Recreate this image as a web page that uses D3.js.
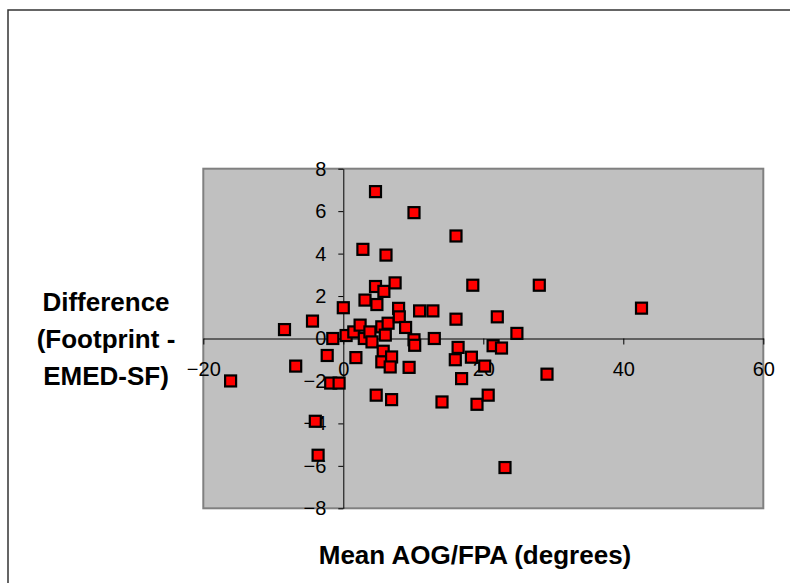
<!DOCTYPE html>
<head>
<style>
body { margin: 0; background: #fff; }
text { font-family: Arial, "Liberation Sans", sans-serif; }
.tick text { font-size: 20px; }
.title { font-size: 26px; font-weight: bold; }
</style>
<meta charset="utf-8">
<title></title>
</head>
<body>
<script src="https://d3js.org/d3.v7.min.js"></script>
<script>
// Mean AOG/FPA (degrees) vs difference (Footprint - EMED-SF)
var meanAog = [-16.1, -8.4, -6.8, -4.4, -4.0, -3.6, -2.3, -1.5, -1.8, -0.6,
               0.0, 0.4, 1.5, 1.8, 2.4, 2.8, 3.1, 3.0, 3.8, 4.1,
               4.6, 4.6, 4.8, 4.7, 5.5, 5.8, 5.7, 5.5, 6.0, 6.1,
               6.4, 6.9, 6.7, 6.9, 7.4, 7.9, 8.0, 8.9, 9.4, 10.1,
               10.1, 10.2, 10.9, 12.8, 13.0, 14.1, 16.1, 16.1, 16.4, 16.0,
               16.9, 18.3, 18.5, 19.1, 20.2, 20.7, 21.4, 22.0, 22.6, 23.1,
               24.8, 28.0, 29.1, 42.6];
var difference = [-2.0, 0.42, -1.3, 0.82, -3.9, -5.5, -0.8, 0.0, -2.1, -2.1,
                  1.45, 0.14, 0.31, -0.9, 0.63, 4.2, 1.81, 0.0, 0.31, -0.16,
                  6.92, 2.45, 1.6, -2.67, 0.55, 2.22, -0.6, -1.1, 0.16, 3.93,
                  0.72, -0.87, -1.34, -2.88, 2.62, 1.42, 1.02, 0.52, -1.36, 5.93,
                  -0.06, -0.32, 1.3, 1.3, 0.0, -2.99, 4.83, 0.91, -0.42, -1.0,
                  -1.89, -0.88, 2.51, -3.1, -1.3, -2.67, -0.34, 1.02, -0.45, -6.08,
                  0.24, 2.51, -1.68, 1.43];
var xTicks = [-20, 0, 20, 40, 60];
var yTicks = [-8, -6, -4, -2, 0, 2, 4, 6, 8];

var width = 790,
    height = 583;

var svg = d3.select("body").append("svg")
            .attr("width", width)
            .attr("height", height);

// outer chart border (runs off the right and bottom edge)
svg.append("rect")
   .attr("x", 8).attr("y", 10)
   .attr("width", 800).attr("height", 600)
   .style("fill", "#fff")
   .style("stroke", "#333")
   .style("stroke-width", 1.5);

var x = d3.scaleLinear().domain([-20, 60]).range([203.3, 763.3]);
var y = d3.scaleLinear().domain([-8, 8]).range([508.3, 168.7]);

// plot area
svg.append("rect")
   .attr("x", x(-20)).attr("y", y(8))
   .attr("width", x(60) - x(-20)).attr("height", y(-8) - y(8))
   .style("fill", "#c0c0c0")
   .style("stroke", "#808080")
   .style("stroke-width", 2);

// axes cross at zero
var xAxis = svg.append("g")
   .attr("transform", "translate(0," + y(0) + ")")
   .call(d3.axisBottom(x).tickValues(xTicks).tickSize(6).tickPadding(17).tickSizeOuter(0));
var yAxis = svg.append("g")
   .attr("transform", "translate(" + x(0) + ",0)")
   .call(d3.axisLeft(y).tickValues(yTicks).tickSize(5).tickPadding(12).tickSizeOuter(0));

[xAxis, yAxis].forEach(function(a) {
    a.select(".domain").style("stroke", "#000");
    a.selectAll(".tick line").style("stroke", "#000");
    a.selectAll(".tick text").style("fill", "#000").attr("font-family", null).attr("font-size", null);
});

// markers
var pts = meanAog.map(function(d, i) { return { x: d, y: difference[i] }; });
var s = 11;
svg.append("g").selectAll("rect.pt")
   .data(pts)
   .enter().append("rect")
   .attr("class", "pt")
   .attr("x", function(d) { return x(d.x) - s / 2; })
   .attr("y", function(d) { return y(d.y) - s / 2; })
   .attr("width", s).attr("height", s)
   .style("fill", "#ff0000")
   .style("stroke", "#000")
   .style("stroke-width", 2.2);

// titles
svg.append("text").attr("class", "title")
   .attr("x", 475).attr("y", 564)
   .attr("text-anchor", "middle")
   .text("Mean AOG/FPA (degrees)");

var yTitle = ["Difference", "(Footprint -", "EMED-SF)"];
svg.append("g").selectAll("text.yt")
   .data(yTitle)
   .enter().append("text")
   .attr("class", "title")
   .attr("x", 106)
   .attr("y", function(d, i) { return 311 + i * 37; })
   .attr("text-anchor", "middle")
   .text(function(d) { return d; });
</script>
</body>
</html>
